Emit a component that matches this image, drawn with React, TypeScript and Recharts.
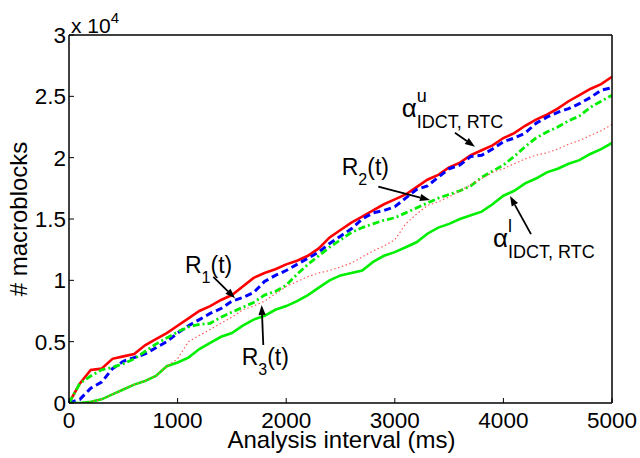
import { Line, LineChart, ReferenceDot, ReferenceLine, XAxis, YAxis } from "recharts";

// analysis interval (ms)
const TIME_MS = [
  0, 100, 200, 300, 400, 500, 600, 700, 800, 900, 1000, 1100, 1200, 1300, 1400, 1500, 1600,
  1700, 1800, 1900, 2000, 2100, 2200, 2300, 2400, 2500, 2600, 2700, 2800, 2900, 3000, 3100,
  3200, 3300, 3400, 3500, 3600, 3700, 3800, 3900, 4000, 4100, 4200, 4300, 4400, 4500, 4600,
  4700, 4800, 4900, 5000
];

// macroblocks, in units of 10^4
const ALPHA_UPPER = [
  0, 0.16, 0.27, 0.28, 0.36, 0.38, 0.4, 0.47, 0.52, 0.57, 0.63, 0.69, 0.75, 0.79, 0.84, 0.88,
  0.95, 1.02, 1.06, 1.09, 1.13, 1.16, 1.2, 1.26, 1.35, 1.41, 1.47, 1.52, 1.57, 1.62, 1.66, 1.7,
  1.76, 1.82, 1.86, 1.92, 1.96, 2.02, 2.06, 2.1, 2.16, 2.2, 2.26, 2.31, 2.35, 2.4, 2.46, 2.51,
  2.56, 2.6, 2.66
];
const R1 = [
  0, 0.03, 0.12, 0.17, 0.28, 0.34, 0.37, 0.4, 0.45, 0.5, 0.57, 0.63, 0.68, 0.73, 0.77, 0.83,
  0.86, 0.9, 0.99, 1.04, 1.08, 1.13, 1.18, 1.23, 1.3, 1.36, 1.42, 1.5, 1.55, 1.57, 1.6, 1.67,
  1.74, 1.77, 1.84, 1.91, 1.94, 2.01, 2.02, 2.07, 2.13, 2.16, 2.2, 2.28, 2.33, 2.37, 2.4, 2.44,
  2.49, 2.55, 2.57
];
const R2 = [
  0, 0.16, 0.22, 0.27, 0.29, 0.32, 0.36, 0.42, 0.48, 0.53, 0.58, 0.62, 0.64, 0.65, 0.7, 0.74,
  0.78, 0.82, 0.88, 0.91, 0.96, 1.05, 1.13, 1.2, 1.27, 1.33, 1.39, 1.43, 1.46, 1.49, 1.51, 1.55,
  1.59, 1.63, 1.67, 1.7, 1.73, 1.77, 1.84, 1.89, 1.94, 2.01, 2.09, 2.16, 2.21, 2.25, 2.3, 2.34,
  2.41, 2.46, 2.51
];
const R3 = [
  0, 0, 0.01, 0.03, 0.07, 0.11, 0.15, 0.18, 0.22, 0.3, 0.36, 0.5, 0.55, 0.6, 0.65, 0.7, 0.76,
  0.79, 0.83, 0.89, 0.95, 0.99, 1.03, 1.06, 1.08, 1.11, 1.14, 1.19, 1.24, 1.28, 1.33, 1.46, 1.54,
  1.61, 1.64, 1.68, 1.73, 1.78, 1.83, 1.88, 1.91, 1.95, 1.99, 2.02, 2.04, 2.07, 2.11, 2.14, 2.18,
  2.22, 2.27
];
const ALPHA_LOWER = [
  0, 0, 0.01, 0.03, 0.07, 0.11, 0.15, 0.18, 0.22, 0.3, 0.33, 0.37, 0.44, 0.49, 0.54, 0.57, 0.63,
  0.68, 0.71, 0.76, 0.79, 0.83, 0.88, 0.94, 1.0, 1.04, 1.06, 1.08, 1.15, 1.2, 1.23, 1.27, 1.31,
  1.38, 1.43, 1.46, 1.5, 1.53, 1.56, 1.62, 1.69, 1.73, 1.79, 1.83, 1.88, 1.91, 1.95, 1.98, 2.03,
  2.07, 2.12
];

const X_TICKS = [0, 1000, 2000, 3000, 4000, 5000];
const Y_TICKS = [0, 0.5, 1, 1.5, 2, 2.5, 3];

// annotation text anchors (left/baseline), in data units
const LABELS = [
  { t: 3063, v: 2.333, base: "α", sup: "u", sub: "IDCT, RTC" },
  { t: 3904, v: 1.274, base: "α", sup: "l", sub: "IDCT, RTC" },
  { t: 1068, v: 1.062, base: "R", sub: "1", tail: "(t)" },
  { t: 2511, v: 1.858, base: "R", sub: "2", tail: "(t)" },
  { t: 1590, v: 0.31, base: "R", sub: "3", tail: "(t)" }
];

// arrows: tail -> head, in data units
const ARROWS = [
  { from: [3554, 2.203], to: [3738, 2.089] },
  { from: [4254, 1.377], to: [4061, 1.687] },
  { from: [1329, 1.029], to: [1529, 0.853] },
  { from: [2848, 1.763], to: [3324, 1.654] },
  { from: [1789, 0.473], to: [1774, 0.799] }
];

const FONT = "'Liberation Sans', Arial, Helvetica, sans-serif";

const data = TIME_MS.map((t, i) => ({
  t,
  alphaU: ALPHA_UPPER[i],
  r1: R1[i],
  r2: R2[i],
  r3: R3[i],
  alphaL: ALPHA_LOWER[i]
}));

function Arrow(props: any) {
  const { x1, y1, x2, y2 } = props;
  if ([x1, y1, x2, y2].some((n) => typeof n !== "number")) return null;
  const ang = Math.atan2(y2 - y1, x2 - x1);
  const len = 10;
  const half = 3.6;
  const bx = x2 - len * Math.cos(ang);
  const by = y2 - len * Math.sin(ang);
  const px = Math.sin(ang) * half;
  const py = Math.cos(ang) * half;
  return (
    <g>
      <line x1={x1} y1={y1} x2={bx} y2={by} stroke="#000" strokeWidth={1.8} />
      <polygon
        points={`${x2},${y2} ${bx + px},${by - py} ${bx - px},${by + py}`}
        fill="#000"
      />
    </g>
  );
}

function makeLabel(item: (typeof LABELS)[number]) {
  return (props: any) => {
    const { cx, cy } = props;
    if (item.base === "α") {
      return (
        <g fontFamily={FONT} fill="#000">
          <text x={cx} y={cy} fontSize={26}>
            {item.base}
          </text>
          <text x={cx + 15} y={cy - 15} fontSize={18}>
            {item.sup}
          </text>
          <text x={cx + 15} y={cy + 11} fontSize={18}>
            {item.sub}
          </text>
        </g>
      );
    }
    return (
      <text x={cx} y={cy} fontSize={23} fontFamily={FONT} fill="#000">
        <tspan>{item.base}</tspan>
        <tspan fontSize={16} dy={10}>
          {item.sub}
        </tspan>
        <tspan dy={-10}>{item.tail}</tspan>
      </text>
    );
  };
}

export default function App() {
  return (
    <div style={{ position: "absolute", left: 0, top: 0, width: 640, height: 458, background: "#fff" }}>
      <LineChart
        width={640}
        height={458}
        data={data}
        margin={{ top: 35, right: 28, left: 0, bottom: 0 }}
        style={{ fontFamily: FONT }}
      >
        <XAxis
          dataKey="t"
          type="number"
          domain={[0, 5000]}
          ticks={X_TICKS}
          allowDataOverflow
          height={55}
          tickSize={-5}
          tickMargin={14}
          fontSize={22.5}
          axisLine={{ stroke: "#000", strokeWidth: 1.5 }}
          tickLine={{ stroke: "#000", strokeWidth: 1 }}
          tick={{ fill: "#000", fontSize: 22.5 }}
          label={{
            content: (p: any) => (
              <text
                x={p.viewBox.x + p.viewBox.width / 2 + 1}
                y={p.viewBox.y + 45}
                textAnchor="middle"
                fontSize={24}
                fill="#000"
              >
                Analysis interval (ms)
              </text>
            )
          }}
        />
        <XAxis
          xAxisId="top"
          dataKey="t"
          type="number"
          orientation="top"
          domain={[0, 5000]}
          ticks={X_TICKS}
          allowDataOverflow
          mirror
          height={1}
          tick={false}
          tickSize={5}
          axisLine={{ stroke: "#000", strokeWidth: 1.5 }}
          tickLine={{ stroke: "#000", strokeWidth: 1 }}
        />
        <YAxis
          type="number"
          domain={[0, 3]}
          ticks={Y_TICKS}
          allowDataOverflow
          width={69}
          tickSize={-5}
          tickMargin={8}
          fontSize={22.5}
          axisLine={{ stroke: "#000", strokeWidth: 1.5 }}
          tickLine={{ stroke: "#000", strokeWidth: 1 }}
          tick={{ fill: "#000", fontSize: 22.5 }}
          label={{
            content: (p: any) => {
              const cx = 18;
              const cy = p.viewBox.y + p.viewBox.height / 2;
              return (
                <g>
                  <text
                    x={cx}
                    y={cy}
                    transform={`rotate(-90 ${cx} ${cy})`}
                    textAnchor="middle"
                    dominantBaseline="central"
                    fontSize={24}
                    fill="#000"
                  >
                    # macroblocks
                  </text>
                  <text x={p.viewBox.x + p.viewBox.width + 2} y={p.viewBox.y - 2} fontSize={21} fill="#000">
                    x 10
                    <tspan fontSize={15} dy={-10}>
                      4
                    </tspan>
                  </text>
                </g>
              );
            }
          }}
        />
        <YAxis
          yAxisId="right"
          type="number"
          orientation="right"
          domain={[0, 3]}
          ticks={Y_TICKS}
          allowDataOverflow
          mirror
          width={1}
          tick={false}
          tickSize={5}
          axisLine={{ stroke: "#000", strokeWidth: 1.5 }}
          tickLine={{ stroke: "#000", strokeWidth: 1 }}
        />
        <Line
          dataKey="alphaU"
          stroke="#ff0000"
          strokeWidth={2.6}
          dot={false}
          activeDot={false}
          isAnimationActive={false}
        />
        <Line
          dataKey="r1"
          stroke="#0000ff"
          strokeWidth={3}
          strokeDasharray="7 4"
          dot={false}
          activeDot={false}
          isAnimationActive={false}
        />
        <Line
          dataKey="r2"
          stroke="#00ee00"
          strokeWidth={2.8}
          strokeDasharray="7 3 2 3"
          dot={false}
          activeDot={false}
          isAnimationActive={false}
        />
        <Line
          dataKey="alphaL"
          stroke="#00ee00"
          strokeWidth={2.6}
          dot={false}
          activeDot={false}
          isAnimationActive={false}
        />
        <Line
          dataKey="r3"
          stroke="#ff5a5a"
          strokeWidth={1.2}
          strokeDasharray="1.5 2.5"
          dot={false}
          activeDot={false}
          isAnimationActive={false}
        />
        {ARROWS.map((a, i) => (
          <ReferenceLine
            key={`arrow-${i}`}
            segment={[
              { x: a.from[0], y: a.from[1] },
              { x: a.to[0], y: a.to[1] }
            ]}
            shape={Arrow}
          />
        ))}
        {LABELS.map((l, i) => (
          <ReferenceDot key={`label-${i}`} x={l.t} y={l.v} r={1} shape={makeLabel(l)} />
        ))}
      </LineChart>
    </div>
  );
}
